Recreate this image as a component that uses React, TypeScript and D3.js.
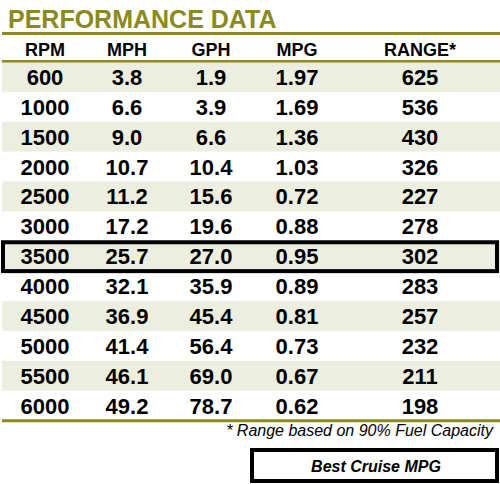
import React from "react";
import * as d3 from "d3";

const title = "PERFORMANCE DATA";
const columns = ["RPM", "MPH", "GPH", "MPG", "RANGE*"];
const rpm = ["600", "1000", "1500", "2000", "2500", "3000", "3500", "4000", "4500", "5000", "5500", "6000"];
const mph = ["3.8", "6.6", "9.0", "10.7", "11.2", "17.2", "25.7", "32.1", "36.9", "41.4", "46.1", "49.2"];
const gph = ["1.9", "3.9", "6.6", "10.4", "15.6", "19.6", "27.0", "35.9", "45.4", "56.4", "69.0", "78.7"];
const mpg = ["1.97", "1.69", "1.36", "1.03", "0.72", "0.88", "0.95", "0.89", "0.81", "0.73", "0.67", "0.62"];
const range = ["625", "536", "430", "326", "227", "278", "302", "283", "257", "232", "211", "198"];
const bestCruiseRpm = "3500";
const footnote = "* Range based on 90% Fuel Capacity";
const legendLabel = "Best Cruise MPG";

const W = 500;
const H = 484;
const OLIVE = "#8a8a1e";
const SHADE = "#ecEEdf";
const FONT = "'Liberation Sans', Arial, Helvetica, sans-serif";

export default function App() {
  const colX = d3.scaleOrdinal<string, number>().domain(columns).range([45, 127, 211, 297, 420]);
  const rowY = d3.scaleBand<string>().domain(rpm).range([62, 420.5]).padding(0);
  const cols = [rpm, mph, gph, mpg, range];
  const valueX = (i: number) => (i === 4 ? 420 : colX(columns[i]));
  const headerX = (i: number) => (i === 4 ? 420 : colX(columns[i]));
  const bw = rowY.bandwidth();

  return (
    <svg width={W} height={H} style={{ position: "absolute", left: 0, top: 0, background: "#fff" }}>
      <rect x={0} y={0} width={W} height={H} fill="#fff" />
      <text x={8} y={28} fontFamily={FONT} fontWeight="bold" fontSize={25} fill={OLIVE}>
        {title}
      </text>
      {rpm.map((r, i) =>
        i % 2 === 0 ? <rect key={r} x={2} y={rowY(r)} width={W - 2} height={bw} fill={SHADE} /> : null
      )}
      <line x1={2} x2={W} y1={33.5} y2={33.5} stroke={OLIVE} strokeWidth={3} />
      <line x1={2} x2={W} y1={61.3} y2={61.3} stroke={OLIVE} strokeWidth={2.6} />
      <line x1={2} x2={W} y1={420.8} y2={420.8} stroke={OLIVE} strokeWidth={3} />
      {columns.map((c, i) => (
        <text key={c} x={headerX(i)} y={56} textAnchor="middle" fontFamily={FONT} fontWeight="bold" fontSize={18} fill="#000">
          {c}
        </text>
      ))}
      {rpm.map((r, ri) =>
        cols.map((col, ci) => (
          <text
            key={r + "-" + ci}
            x={valueX(ci)}
            y={(rowY(r) as number) + bw / 2 + 8}
            textAnchor="middle"
            fontFamily={FONT}
            fontWeight="bold"
            fontSize={22}
            fill="#000"
          >
            {col[ri]}
          </text>
        ))
      )}
      <rect
        x={3}
        y={(rowY(bestCruiseRpm) as number) + 1}
        width={W - 6}
        height={bw - 1}
        fill="none"
        stroke="#000"
        strokeWidth={4}
      />
      <text x={493} y={436} textAnchor="end" fontFamily={FONT} fontStyle="italic" fontSize={16} fill="#000">
        {footnote}
      </text>
      <rect x={252} y={450} width={245} height={31} fill="#fff" stroke="#000" strokeWidth={4} />
      <text x={376} y={472} textAnchor="middle" fontFamily={FONT} fontStyle="italic" fontWeight="bold" fontSize={16} fill="#000">
        {legendLabel}
      </text>
    </svg>
  );
}
